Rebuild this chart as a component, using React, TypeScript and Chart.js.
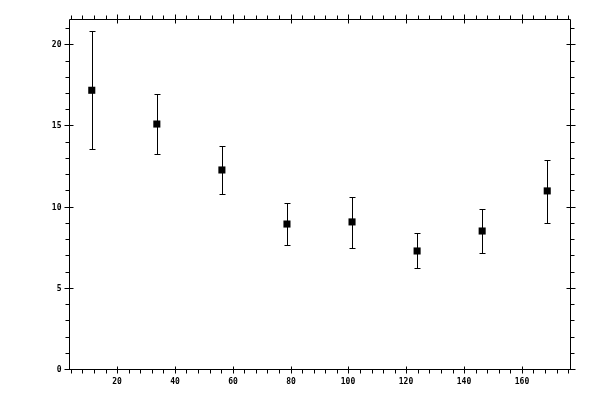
import { useEffect, useRef } from "react";
import {
  Chart, ScatterController, PointElement, LinearScale,
  type Plugin,
} from "chart.js";

Chart.register(ScatterController, PointElement, LinearScale);

// Bin centres and measured values with their error bounds
const X_VALUES = [11.25, 33.75, 56.25, 78.75, 101.25, 123.75, 146.25, 168.75];
const Y_VALUES = [17.17, 15.09, 12.26, 8.93, 9.06, 7.27, 8.5, 10.97];
const Y_UPPER  = [20.82, 16.94, 13.74, 10.23, 10.6, 8.38, 9.86, 12.88];
const Y_LOWER  = [13.57, 13.23, 10.8, 7.64, 7.46, 6.22, 7.15, 9.0];

const X_TICKS = [20, 40, 60, 80, 100, 120, 140, 160];
const Y_TICKS = [0, 5, 10, 15, 20];
const X_MINOR_STEP = 4;
const Y_MINOR_STEP = 1;

const X_MIN = 3.375;
const X_MAX = 176.625;
const Y_MIN = 0;
const Y_MAX = 21.56;

const FONT = "bold 8px 'DejaVu Sans Mono', monospace";

const errorBars: Plugin<"scatter"> = {
  id: "errorBars",
  beforeDatasetsDraw(chart) {
    const { ctx, scales } = chart;
    ctx.save();
    ctx.strokeStyle = "#000";
    ctx.lineWidth = 1;
    X_VALUES.forEach((xv, i) => {
      const px = Math.round(scales.x.getPixelForValue(xv)) + 0.5;
      const top = Math.round(scales.y.getPixelForValue(Y_UPPER[i])) + 0.5;
      const bot = Math.round(scales.y.getPixelForValue(Y_LOWER[i])) + 0.5;
      ctx.beginPath();
      ctx.moveTo(px, top); ctx.lineTo(px, bot);
      ctx.moveTo(px - 3, top); ctx.lineTo(px + 3, top);
      ctx.moveTo(px - 3, bot); ctx.lineTo(px + 3, bot);
      ctx.stroke();
    });
    ctx.restore();
  },
};

// Boxed frame with ticks on all four sides, labels on left and bottom
const frameAxes: Plugin<"scatter"> = {
  id: "frameAxes",
  afterDraw(chart) {
    const { ctx, chartArea: a, scales } = chart;
    const L = a.left + 0.5, R = a.right + 0.5, T = a.top + 0.5, B = a.bottom + 0.5;
    ctx.save();
    ctx.strokeStyle = "#000";
    ctx.lineWidth = 1;
    ctx.beginPath();
    ctx.rect(L, T, R - L, B - T);

    for (let v = Math.ceil(X_MIN / X_MINOR_STEP) * X_MINOR_STEP; v <= X_MAX; v += X_MINOR_STEP) {
      const px = Math.round(scales.x.getPixelForValue(v)) + 0.5;
      const major = X_TICKS.includes(v);
      ctx.moveTo(px, major ? B - 3 : B); ctx.lineTo(px, B + 4);
      ctx.moveTo(px, major ? T - 5 : T - 4); ctx.lineTo(px, major ? T + 4 : T);
    }
    for (let v = Math.ceil(Y_MIN / Y_MINOR_STEP) * Y_MINOR_STEP; v <= Y_MAX; v += Y_MINOR_STEP) {
      const py = Math.round(scales.y.getPixelForValue(v)) + 0.5;
      const major = Y_TICKS.includes(v);
      ctx.moveTo(major ? L - 5 : L - 4, py); ctx.lineTo(major ? L + 4 : L, py);
      ctx.moveTo(major ? R - 4 : R, py); ctx.lineTo(major ? R + 5 : R + 4, py);
    }
    ctx.stroke();

    ctx.fillStyle = "#000";
    ctx.font = FONT;
    ctx.textAlign = "center";
    ctx.textBaseline = "top";
    for (const t of X_TICKS) {
      ctx.fillText(String(t), Math.round(scales.x.getPixelForValue(t)), B + 8);
    }
    ctx.textAlign = "right";
    ctx.textBaseline = "middle";
    for (const t of Y_TICKS) {
      ctx.fillText(String(t), L - 8, Math.round(scales.y.getPixelForValue(t)) + 1);
    }
    ctx.restore();
  },
};

export default function App() {
  const canvasRef = useRef<HTMLCanvasElement>(null);
  const chartRef = useRef<Chart<"scatter"> | null>(null);

  useEffect(() => {
    if (!canvasRef.current) return;
    chartRef.current?.destroy();

    chartRef.current = new Chart(canvasRef.current, {
      type: "scatter",
      data: {
        datasets: [{
          data: X_VALUES.map((x, i) => ({ x, y: Y_VALUES[i] })),
          pointStyle: "rect",
          pointRadius: 5,
          pointBorderWidth: 0,
          pointBackgroundColor: "#000",
          pointBorderColor: "#000",
        }],
      },
      options: {
        responsive: true,
        maintainAspectRatio: false,
        animation: false,
        layout: { padding: { left: 69, right: 30, top: 19, bottom: 31 } },
        scales: {
          x: { type: "linear", min: X_MIN, max: X_MAX, display: false },
          y: { type: "linear", min: Y_MIN, max: Y_MAX, display: false },
        },
        plugins: { legend: { display: false }, tooltip: { enabled: false } },
      },
      plugins: [errorBars, frameAxes],
    });

    return () => {
      chartRef.current?.destroy();
      chartRef.current = null;
    };
  }, []);

  return (
    <div style={{ position: "fixed", left: 0, top: 0, width: 600, height: 400, background: "#fff" }}>
      <canvas ref={canvasRef} />
    </div>
  );
}
